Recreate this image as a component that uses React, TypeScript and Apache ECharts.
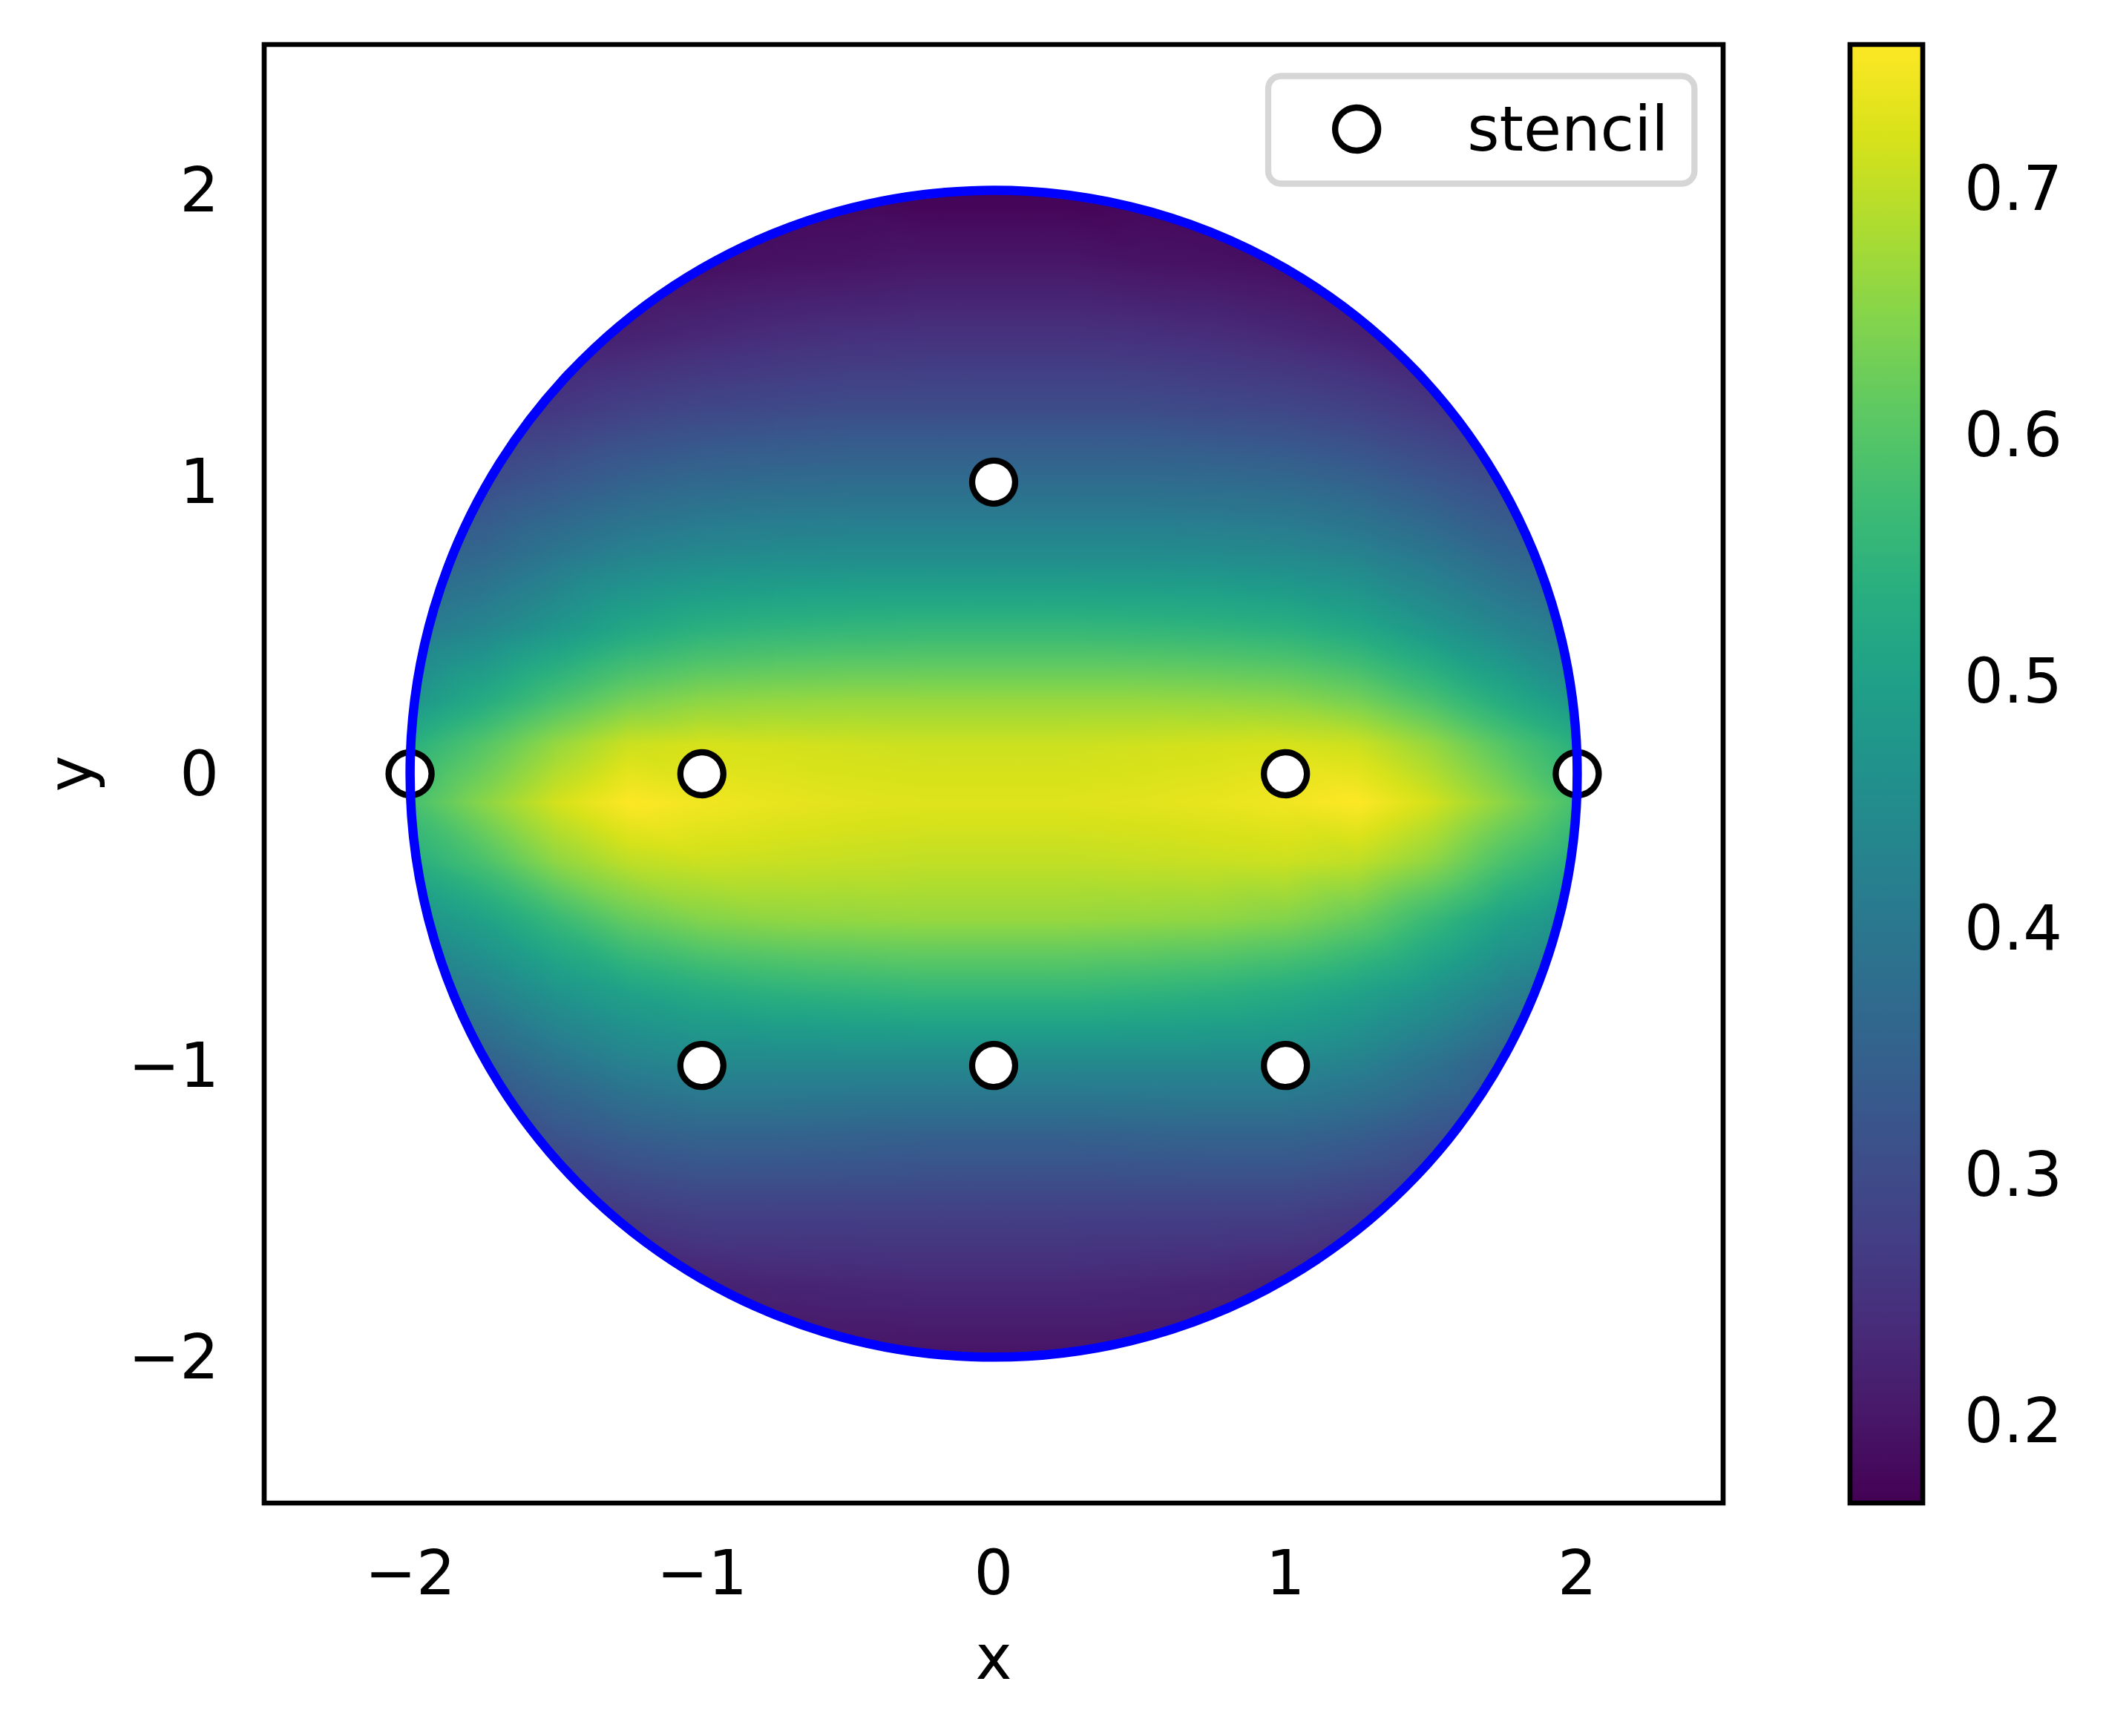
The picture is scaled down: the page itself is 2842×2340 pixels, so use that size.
import React, { useEffect, useRef } from 'react';
import * as echarts from 'echarts';

// ---------------- data ----------------
const gridX = [-2, -1.75, -1.5, -1.25, -1, -0.75, -0.5, -0.25, 0, 0.25, 0.5, 0.75, 1, 1.25, 1.5, 1.75, 2];
const gridY = [2, 1.75, 1.5, 1.25, 1, 0.75, 0.5, 0.25, 0.1, -0.1, -0.3, -0.5, -0.75, -1, -1.25, -1.5, -1.75, -2];

// field values (rows follow gridY, columns follow gridX)
const fieldValues = [
  [0.178, 0.178, 0.178, 0.178, 0.178, 0.173, 0.173, 0.167, 0.167, 0.167, 0.173, 0.173, 0.178, 0.178, 0.178, 0.178, 0.178],
  [0.184, 0.184, 0.184, 0.184, 0.187, 0.193, 0.196, 0.202, 0.202, 0.202, 0.196, 0.193, 0.187, 0.184, 0.184, 0.184, 0.184],
  [0.208, 0.208, 0.211, 0.220, 0.232, 0.241, 0.247, 0.250, 0.250, 0.250, 0.247, 0.241, 0.232, 0.220, 0.211, 0.208, 0.208],
  [0.250, 0.250, 0.261, 0.279, 0.291, 0.297, 0.303, 0.303, 0.303, 0.303, 0.303, 0.297, 0.291, 0.279, 0.261, 0.250, 0.250],
  [0.297, 0.303, 0.326, 0.350, 0.365, 0.371, 0.374, 0.374, 0.374, 0.374, 0.374, 0.371, 0.365, 0.350, 0.326, 0.303, 0.297],
  [0.344, 0.362, 0.398, 0.427, 0.442, 0.448, 0.451, 0.451, 0.451, 0.451, 0.451, 0.448, 0.442, 0.427, 0.398, 0.362, 0.344],
  [0.403, 0.433, 0.474, 0.516, 0.540, 0.549, 0.554, 0.557, 0.557, 0.557, 0.554, 0.549, 0.540, 0.516, 0.474, 0.433, 0.403],
  [0.474, 0.528, 0.587, 0.634, 0.655, 0.661, 0.664, 0.664, 0.664, 0.664, 0.664, 0.661, 0.655, 0.634, 0.587, 0.528, 0.474],
  [0.540, 0.599, 0.664, 0.711, 0.720, 0.717, 0.714, 0.711, 0.711, 0.711, 0.714, 0.717, 0.720, 0.711, 0.664, 0.599, 0.540],
  [0.581, 0.652, 0.717, 0.759, 0.747, 0.738, 0.732, 0.729, 0.729, 0.729, 0.732, 0.738, 0.747, 0.759, 0.717, 0.652, 0.581],
  [0.534, 0.587, 0.658, 0.700, 0.711, 0.708, 0.705, 0.702, 0.702, 0.702, 0.705, 0.708, 0.711, 0.700, 0.658, 0.587, 0.534],
  [0.463, 0.504, 0.563, 0.617, 0.646, 0.658, 0.661, 0.664, 0.664, 0.664, 0.661, 0.658, 0.646, 0.617, 0.563, 0.504, 0.463],
  [0.392, 0.421, 0.469, 0.504, 0.528, 0.543, 0.551, 0.557, 0.557, 0.557, 0.551, 0.543, 0.528, 0.504, 0.469, 0.421, 0.392],
  [0.332, 0.344, 0.386, 0.421, 0.439, 0.439, 0.439, 0.439, 0.439, 0.439, 0.439, 0.439, 0.439, 0.421, 0.386, 0.344, 0.332],
  [0.297, 0.297, 0.315, 0.338, 0.350, 0.350, 0.347, 0.344, 0.344, 0.344, 0.347, 0.350, 0.350, 0.338, 0.315, 0.297, 0.297],
  [0.255, 0.255, 0.255, 0.267, 0.279, 0.279, 0.279, 0.279, 0.279, 0.279, 0.279, 0.279, 0.279, 0.267, 0.255, 0.255, 0.255],
  [0.214, 0.214, 0.214, 0.214, 0.220, 0.226, 0.229, 0.232, 0.232, 0.232, 0.229, 0.226, 0.220, 0.214, 0.214, 0.214, 0.214],
  [0.196, 0.196, 0.196, 0.196, 0.196, 0.196, 0.196, 0.196, 0.196, 0.196, 0.196, 0.196, 0.196, 0.196, 0.196, 0.196, 0.196],
];

const stencilX = [0, -2, -1, 1, 2, -1, 0, 1];
const stencilY = [1, 0, 0, 0, 0, -1, -1, -1];

const domainCenter = [0, 0];
const domainRadius = 2;

const axisTickValues = [-2, -1, 0, 1, 2];
const colorbarMin = 0.1666;
const colorbarMax = 0.7587;
const colorbarTicks = [0.2, 0.3, 0.4, 0.5, 0.6, 0.7];

// viridis colormap (17 evenly spaced stops)
const VIRIDIS = [
  '#440154', '#48186a', '#472d7b', '#424086', '#3b528b', '#33638d', '#2c728e', '#26828e',
  '#21918c', '#1fa088', '#28ae80', '#3fbc73', '#5ec962', '#84d44b', '#addc30', '#d8e219', '#fde725',
];

// ---------------- helpers ----------------
const VIR_RGB = VIRIDIS.map((h) => [
  parseInt(h.slice(1, 3), 16),
  parseInt(h.slice(3, 5), 16),
  parseInt(h.slice(5, 7), 16),
]);

function colorOf(v: number): string {
  let t = (v - colorbarMin) / (colorbarMax - colorbarMin);
  if (t < 0) t = 0;
  if (t > 1) t = 1;
  const f = t * (VIR_RGB.length - 1);
  const i = Math.min(Math.floor(f), VIR_RGB.length - 2);
  const u = f - i;
  const a = VIR_RGB[i];
  const b = VIR_RGB[i + 1];
  const r = Math.round(a[0] + (b[0] - a[0]) * u);
  const g = Math.round(a[1] + (b[1] - a[1]) * u);
  const bl = Math.round(a[2] + (b[2] - a[2]) * u);
  return `rgb(${r},${g},${bl})`;
}

const CLIP_N = 720;
const clipPolygonPts: number[][] = [];
for (let k = 0; k < CLIP_N; k++) {
  const ang = (2 * Math.PI * k) / CLIP_N;
  clipPolygonPts.push([domainCenter[0] + domainRadius * Math.cos(ang), domainCenter[1] + domainRadius * Math.sin(ang)]);
}
const innerR2 = Math.pow(domainRadius * Math.cos(Math.PI / CLIP_N), 2);

function clipPoly(subject: number[][], clip: number[][]): number[][] {
  let output = subject;
  for (let i = 0; i < clip.length; i++) {
    if (!output.length) break;
    const A = clip[i];
    const B = clip[(i + 1) % clip.length];
    const ex = B[0] - A[0];
    const ey = B[1] - A[1];
    const inside = (p: number[]) => ex * (p[1] - A[1]) - ey * (p[0] - A[0]) >= 0;
    const inter = (P: number[], Q: number[]) => {
      const den = ex * (Q[1] - P[1]) - ey * (Q[0] - P[0]);
      const num = ex * (A[1] - P[1]) - ey * (A[0] - P[0]);
      const s = den === 0 ? 0 : num / den;
      return [P[0] + (Q[0] - P[0]) * s, P[1] + (Q[1] - P[1]) * s];
    };
    const input = output;
    output = [];
    for (let j = 0; j < input.length; j++) {
      const P = input[j];
      const Q = input[(j + 1) % input.length];
      const pin = inside(P);
      const qin = inside(Q);
      if (pin) {
        output.push(P);
        if (!qin) output.push(inter(P, Q));
      } else if (qin) {
        output.push(inter(P, Q));
      }
    }
  }
  return output;
}

function triangleFill(pix: number[][], vals: number[]): any {
  const [x1, y1] = pix[0];
  const [x2, y2] = pix[1];
  const [x3, y3] = pix[2];
  const [v1, v2, v3] = vals;
  const vmin = Math.min(v1, v2, v3);
  const vmax = Math.max(v1, v2, v3);
  const d = (x2 - x1) * (y3 - y1) - (x3 - x1) * (y2 - y1);
  if (Math.abs(d) < 1e-9 || vmax - vmin < 1e-6) return colorOf((v1 + v2 + v3) / 3);
  const a = ((v2 - v1) * (y3 - y1) - (v3 - v1) * (y2 - y1)) / d;
  const b = ((x2 - x1) * (v3 - v1) - (x3 - x1) * (v2 - v1)) / d;
  const g2 = a * a + b * b;
  if (g2 < 1e-14) return colorOf((v1 + v2 + v3) / 3);
  const iMin = vals.indexOf(vmin);
  const S = pix[iMin];
  const t = (vmax - vmin) / g2;
  const E = [S[0] + a * t, S[1] + b * t];
  const n = 6;
  const stops = [];
  for (let k = 0; k <= n; k++) {
    stops.push({ offset: k / n, color: colorOf(vmin + ((vmax - vmin) * k) / n) });
  }
  return new echarts.graphic.LinearGradient(S[0], S[1], E[0], E[1], stops, true);
}

// triangle items: [column index, row index, triangle id]
const triangleItems: number[][] = [];
for (let j = 0; j < gridY.length - 1; j++) {
  for (let i = 0; i < gridX.length - 1; i++) {
    triangleItems.push([i, j, 0]);
    triangleItems.push([i, j, 1]);
  }
}

const FONT = 'DejaVu Sans';
const FS = 83;
const LW = 6.67;

function tickFmt(v: number): string {
  return v < 0 ? '\u2212' + Math.abs(v) : String(v);
}

export default function App() {
  const ref = useRef<HTMLDivElement>(null);

  useEffect(() => {
    document.body.style.margin = '0';
    if (!ref.current) return;
    const chart = echarts.init(ref.current, null, { renderer: 'svg' });

    const option: any = {
      animation: false,
      backgroundColor: '#ffffff',
      textStyle: { fontFamily: FONT },
      grid: [
        { left: 356, top: 60, width: 1966, height: 1966, show: true, borderColor: '#000', borderWidth: LW, backgroundColor: 'rgba(0,0,0,0)' },
        { left: 2493, top: 60, width: 98, height: 1966, show: false },
      ],
      xAxis: [
        {
          gridIndex: 0, type: 'value', min: -2.5, max: 2.5, position: 'bottom',
          axisLine: { show: false }, splitLine: { show: false },
          axisTick: { show: true, inside: false, length: 29, lineStyle: { color: '#000', width: LW }, customValues: axisTickValues },
          axisLabel: { customValues: axisTickValues, margin: 53, fontSize: FS, fontFamily: FONT, color: '#000', formatter: tickFmt },
        },
        { gridIndex: 1, type: 'value', min: 0, max: 1, show: false },
      ],
      yAxis: [
        {
          gridIndex: 0, type: 'value', min: -2.5, max: 2.5, position: 'left',
          axisLine: { show: false }, splitLine: { show: false },
          axisTick: { show: true, inside: false, length: 29, lineStyle: { color: '#000', width: LW }, customValues: axisTickValues },
          axisLabel: { customValues: axisTickValues, margin: 61, fontSize: FS, fontFamily: FONT, color: '#000', formatter: tickFmt },
        },
        {
          gridIndex: 1, type: 'value', min: colorbarMin, max: colorbarMax, position: 'right',
          axisLine: { show: false }, splitLine: { show: false },
          axisTick: { show: true, inside: false, length: 29, lineStyle: { color: '#000', width: LW }, customValues: colorbarTicks },
          axisLabel: { customValues: colorbarTicks, margin: 56, fontSize: FS, fontFamily: FONT, color: '#000', formatter: (v: number) => v.toFixed(1) },
        },
      ],
      legend: {
        show: true,
        data: ['stencil'],
        left: 1709, top: 102.5,
        orient: 'vertical',
        padding: [30, 35, 32, 86],
        itemWidth: 58, itemHeight: 58,
        icon: 'circle',
        itemStyle: { color: '#ffffff', borderColor: '#000000', borderWidth: 8.3 },
        textStyle: { fontSize: FS, fontFamily: FONT, color: '#000', padding: [0, 0, 0, 115] },
        backgroundColor: '#ffffff',
        borderColor: '#d6d6d6', borderWidth: 8.3, borderRadius: 17,
        selectedMode: false,
      },
      graphic: [
        { type: 'text', x: 1339, y: 2234, style: { text: 'x', fontSize: FS, fontFamily: FONT, fill: '#000', align: 'center', verticalAlign: 'middle' } },
        { type: 'text', x: 95, y: 1043, rotation: Math.PI / 2, style: { text: 'y', fontSize: FS, fontFamily: FONT, fill: '#000', align: 'center', verticalAlign: 'middle' } },
      ],
      series: [
        {
          type: 'custom',
          name: 'field',
          xAxisIndex: 0, yAxisIndex: 0,
          z: 1,
          silent: true,
          data: triangleItems,
          renderItem: (params: any, api: any) => {
            const ci = api.value(0);
            const rj = api.value(1);
            const k = api.value(2);
            const corners = k === 0
              ? [[ci, rj], [ci + 1, rj], [ci + 1, rj + 1]]
              : [[ci, rj], [ci + 1, rj + 1], [ci, rj + 1]];
            const dataPts = corners.map(([a, b]) => [gridX[a], gridY[b]]);
            const vals = corners.map(([a, b]) => fieldValues[b][a]);
            let poly = dataPts;
            const allIn = dataPts.every((p) => (p[0] - domainCenter[0]) ** 2 + (p[1] - domainCenter[1]) ** 2 <= innerR2);
            if (!allIn) poly = clipPoly(dataPts, clipPolygonPts);
            if (poly.length < 3) return null;
            const pix = dataPts.map((p) => api.coord(p));
            const cpix = poly.map((p) => api.coord(p));
            const fill = triangleFill(pix, vals);
            return {
              type: 'polygon',
              shape: { points: cpix },
              style: { fill, stroke: fill, lineWidth: 1.5 },
            };
          },
        },
        {
          type: 'scatter',
          name: 'stencil',
          xAxisIndex: 0, yAxisIndex: 0,
          z: 2,
          symbol: 'circle',
          symbolSize: 58,
          itemStyle: { color: '#ffffff', borderColor: '#000000', borderWidth: 8.3, opacity: 1 },
          data: stencilX.map((x, i) => [x, stencilY[i]]),
        },
        {
          type: 'custom',
          name: 'boundary',
          xAxisIndex: 0, yAxisIndex: 0,
          z: 3,
          silent: true,
          data: [[domainCenter[0], domainCenter[1], domainRadius]],
          renderItem: (params: any, api: any) => {
            const c = api.coord([api.value(0), api.value(1)]);
            const r = api.size([api.value(2), api.value(2)])[0];
            return {
              type: 'circle',
              shape: { cx: c[0], cy: c[1], r },
              style: { fill: 'none', stroke: '#0000ff', lineWidth: 12.5 },
            };
          },
        },
        {
          type: 'custom',
          name: 'colorbar',
          xAxisIndex: 1, yAxisIndex: 1,
          z: 1,
          silent: true,
          data: [[0, colorbarMin, 1, colorbarMax]],
          renderItem: (params: any, api: any) => {
            const p0 = api.coord([api.value(0), api.value(1)]);
            const p1 = api.coord([api.value(2), api.value(3)]);
            const stops = VIRIDIS.map((c, i) => ({ offset: i / (VIRIDIS.length - 1), color: c }));
            return {
              type: 'rect',
              shape: { x: p0[0], y: p1[1], width: p1[0] - p0[0], height: p0[1] - p1[1] },
              style: {
                fill: new echarts.graphic.LinearGradient(0, 1, 0, 0, stops),
                stroke: '#000',
                lineWidth: LW,
              },
            };
          },
        },
      ],
    };

    chart.setOption(option);
    return () => chart.dispose();
  }, []);

  return <div ref={ref} style={{ position: 'absolute', left: 0, top: 0, width: 2842, height: 2340 }} />;
}
